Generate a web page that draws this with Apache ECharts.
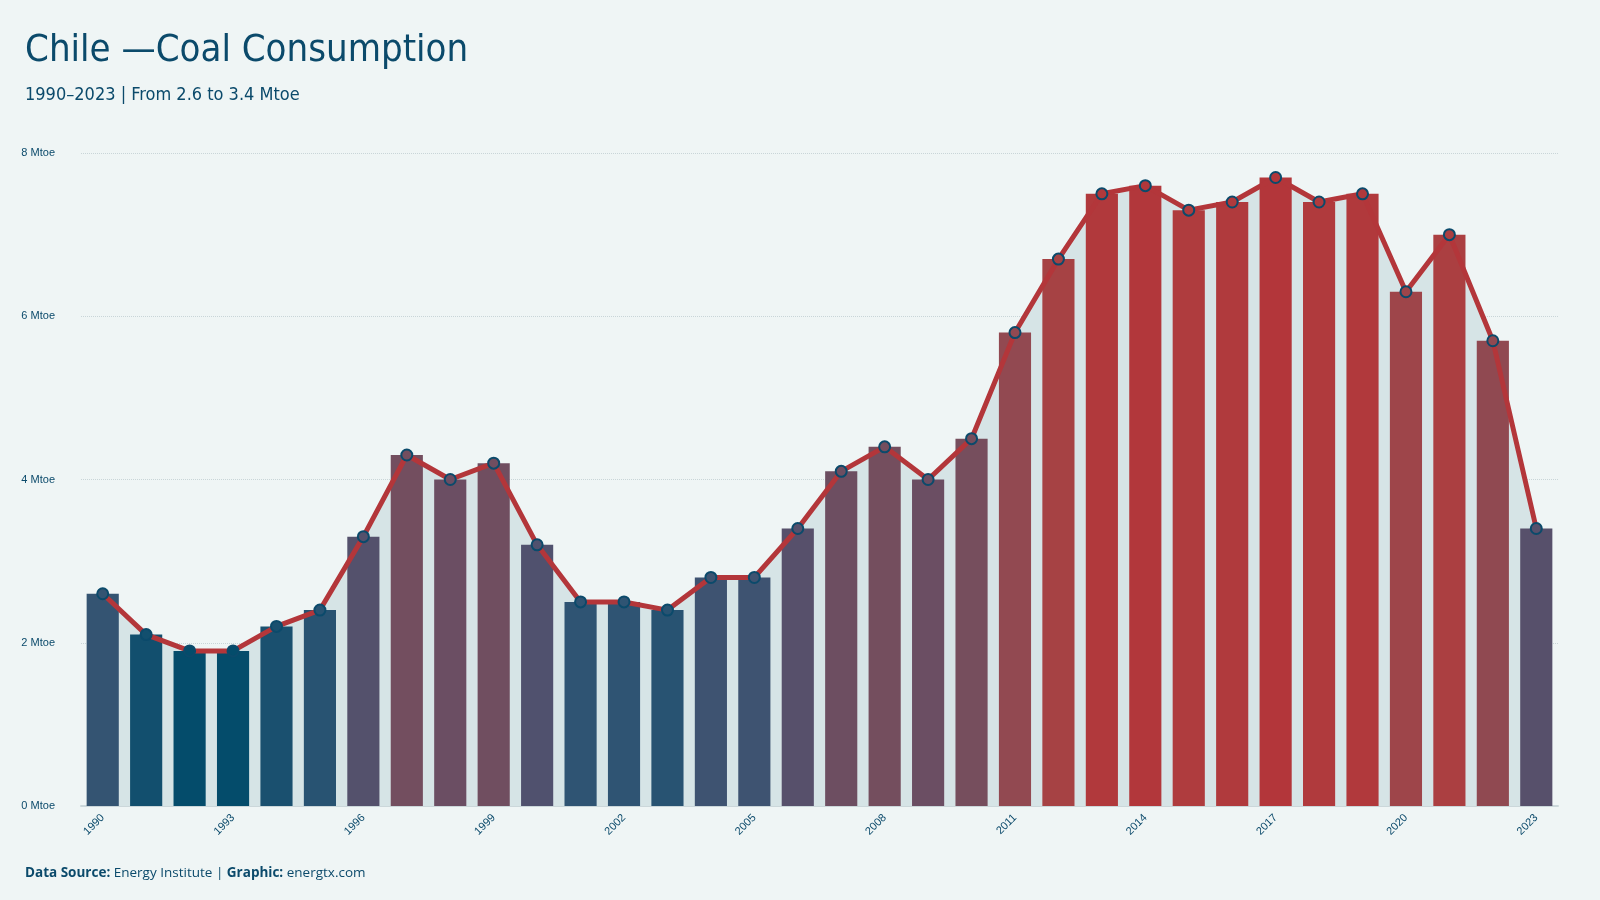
<!DOCTYPE html>
<html>
<head>
<meta charset="utf-8">
<script src="https://cdn.jsdelivr.net/npm/echarts@6/dist/echarts.min.js"></script>
<style>
html,body{margin:0;padding:0;background:#EFF5F5;}
#chart{width:1600px;height:900px;}
</style>
</head>
<body>
<div id="chart"></div>
<script>
// Chile coal consumption, Mtoe
var years = ['1990','1991','1992','1993','1994','1995','1996','1997','1998','1999',
	'2000','2001','2002','2003','2004','2005','2006','2007','2008','2009',
	'2010','2011','2012','2013','2014','2015','2016','2017','2018','2019',
	'2020','2021','2022','2023'];
var consumption = [2.6, 2.1, 1.9, 1.9, 2.2, 2.4, 3.3, 4.3, 4.0, 4.2,
	3.2, 2.5, 2.5, 2.4, 2.8, 2.8, 3.4, 4.1, 4.4, 4.0,
	4.5, 5.8, 6.7, 7.5, 7.6, 7.3, 7.4, 7.7, 7.4, 7.5,
	6.3, 7.0, 5.7, 3.4];

var TEXT = '#0B4A6B';
var RED = '#B3363A';
// blue -> red scale, evenly spaced from min to max value
var SCALE = ['#044C6B','#2E5473','#4B5270','#604F67','#714E60','#7C4D59',
	'#884B53','#964850','#A44345','#AD3E40','#B3363A'];
var TITLE_FONT = '"Liberation Sans Narrow", "DejaVu Sans Condensed", sans-serif';

var myChart = echarts.init(document.getElementById('chart'));
myChart.setOption({
	backgroundColor: '#EFF5F5',
	animation: false,
	title: [
		{
			text: 'Chile \u2014Coal Consumption',
			left: 20,
			top: 27,
			textStyle: {color: TEXT, fontSize: 38, fontWeight: 'normal', fontFamily: TITLE_FONT},
			subtext: '1990\u20132023 | From 2.6 to 3.4 Mtoe',
			subtextStyle: {color: TEXT, fontSize: 18, fontFamily: TITLE_FONT},
			itemGap: 16
		},
		{
			text: '{b|Data Source:} Energy Institute | {b|Graphic:} energtx.com',
			left: 20,
			top: 861,
			textStyle: {
				color: TEXT, fontSize: 13.5, fontWeight: 'normal', fontFamily: '"Open Sans", sans-serif',
				rich: {b: {fontWeight: 'bold', fontSize: 13.5, color: TEXT, fontFamily: '"Open Sans", sans-serif'}}
			}
		}
	],
	grid: {left: 81, right: 42, top: 153, bottom: 94},
	visualMap: {
		show: false,
		type: 'continuous',
		seriesIndex: [1, 3],
		min: 1.9,
		max: 7.7,
		inRange: {color: SCALE}
	},
	xAxis: {
		type: 'category',
		data: years,
		axisTick: {show: false},
		axisLine: {lineStyle: {color: '#CBD7DA', width: 2}},
		axisLabel: {color: TEXT, fontSize: 11, rotate: 45, interval: 2, margin: 10}
	},
	yAxis: {
		type: 'value',
		min: 0,
		max: 8,
		interval: 2,
		axisLabel: {color: TEXT, fontSize: 11, formatter: '{value} Mtoe', margin: 26},
		splitLine: {lineStyle: {color: '#C9D5D8', type: 'dotted', width: 1}}
	},
	series: [
		{
			// area under the line, kept behind the bars
			type: 'line',
			data: consumption,
			symbol: 'none',
			lineStyle: {opacity: 0},
			areaStyle: {color: '#D6E4E6', opacity: 1},
			z: 1,
			silent: true
		},
		{
			type: 'bar',
			data: consumption,
			barCategoryGap: '26%',
			z: 2
		},
		{
			type: 'line',
			data: consumption,
			symbol: 'none',
			lineStyle: {color: RED, width: 5},
			z: 3
		},
		{
			type: 'scatter',
			data: consumption,
			symbolSize: 11,
			itemStyle: {borderColor: TEXT, borderWidth: 2, opacity: 1},
			z: 4
		}
	]
});
</script>
</body>
</html>
